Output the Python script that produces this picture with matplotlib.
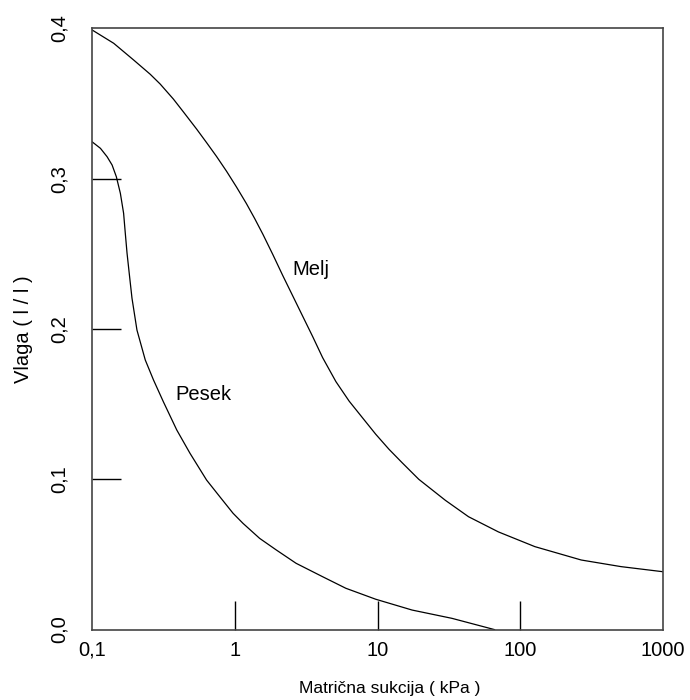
import matplotlib
matplotlib.use("Agg")
import matplotlib.pyplot as plt
from matplotlib.ticker import FixedLocator, NullLocator

plt.rcParams['font.family'] = ['Liberation Sans', 'DejaVu Sans']

# Data
melj_x = [0.1, 0.1419, 0.1956, 0.2557, 0.3002, 0.3715, 0.4363, 0.5408, 0.6349, 0.7455,
          0.8754, 1.028, 1.206, 1.379, 1.575, 1.849, 2.171, 2.549, 2.992, 3.513,
          4.124, 5.112, 6.33, 7.84, 9.716, 12.03, 14.89, 19.46, 29.9, 43.42,
          70.3, 126.6, 267.5, 508, 1000]
melj_y = [0.399, 0.3901, 0.3790, 0.3695, 0.3630, 0.3530, 0.3445, 0.3330, 0.3240, 0.3148,
          0.3050, 0.2945, 0.2835, 0.2735, 0.2630, 0.2495, 0.2355, 0.2220, 0.2085, 0.1950,
          0.1810, 0.1650, 0.1520, 0.1410, 0.1300, 0.1200, 0.1110, 0.1000, 0.0860, 0.0751,
          0.0650, 0.0552, 0.0463, 0.0419, 0.0385]

pesek_x = [0.1, 0.1146, 0.1276, 0.1383, 0.1481, 0.158, 0.1665, 0.1711, 0.176, 0.1834,
           0.1906, 0.2065, 0.2361, 0.2696, 0.3165, 0.3925, 0.4858, 0.6349, 0.786, 0.973,
           1.142, 1.494, 1.953, 2.691, 4.124, 6.0, 9.716, 17.48, 33.2, 66]
pesek_y = [0.3246, 0.3202, 0.3146, 0.3091, 0.3013, 0.2903, 0.2770, 0.2637, 0.2504, 0.2348,
           0.2205, 0.1993, 0.1794, 0.1661, 0.1515, 0.1328, 0.1173, 0.0995, 0.0884, 0.0774,
           0.0707, 0.0607, 0.0530, 0.0441, 0.0352, 0.0275, 0.0202, 0.0130, 0.0075, 0.0]

x_ticks = [0.1, 1, 10, 100, 1000]
x_tick_labels = ['0,1', '1', '10', '100', '1000']
y_ticks = [0.0, 0.1, 0.2, 0.3, 0.4]
y_tick_labels = ['0,0', '0,1', '0,2', '0,3', '0,4']

series_labels = ['Melj', 'Pesek']
x_label = 'Matrična sukcija ( kPa )'
y_label = 'Vlaga ( l / l )'

fig = plt.figure(figsize=(6.9, 7.0), dpi=100)
ax = fig.add_axes([92 / 690, (700 - 629.6) / 700, (663 - 92) / 690, (629.6 - 28.4) / 700])

ax.plot(melj_x, melj_y, color='black', lw=0.9)
ax.plot(pesek_x, pesek_y, color='black', lw=0.9)

ax.set_xscale('log')
ax.set_xlim(0.1, 1000)
ax.set_ylim(0.0, 0.4)

ax.xaxis.set_major_locator(FixedLocator(x_ticks))
ax.xaxis.set_minor_locator(NullLocator())
ax.set_xticklabels(x_tick_labels)
ax.yaxis.set_major_locator(FixedLocator(y_ticks))
ax.set_yticklabels(y_tick_labels, rotation=90, va='center')

ax.tick_params(axis='both', direction='in', length=21, width=1.0, color='black',
               labelsize=14.5, top=False, right=False)
ax.tick_params(axis='x', pad=8)
ax.tick_params(axis='y', pad=17)

# boundary ticks coincide with the frame in the reference
for axis in (ax.xaxis, ax.yaxis):
    ticks = axis.get_major_ticks()
    for t in (ticks[0], ticks[-1]):
        t.tick1line.set_visible(False)

for s in ax.spines.values():
    s.set_color('#444444')
    s.set_linewidth(1.2)

ax.text(2.54, 0.236, series_labels[0], fontsize=14.5, ha='left', va='baseline')
ax.text(0.382, 0.153, series_labels[1], fontsize=14.5, ha='left', va='baseline')

ax.set_xlabel(x_label, fontsize=12.5)
ax.xaxis.set_label_coords(0.521, -0.0855)
ax.set_ylabel(y_label, fontsize=14.5)
ax.yaxis.set_label_coords(-0.103, 0.5)

fig.savefig('out.png', dpi=100, facecolor='white')
